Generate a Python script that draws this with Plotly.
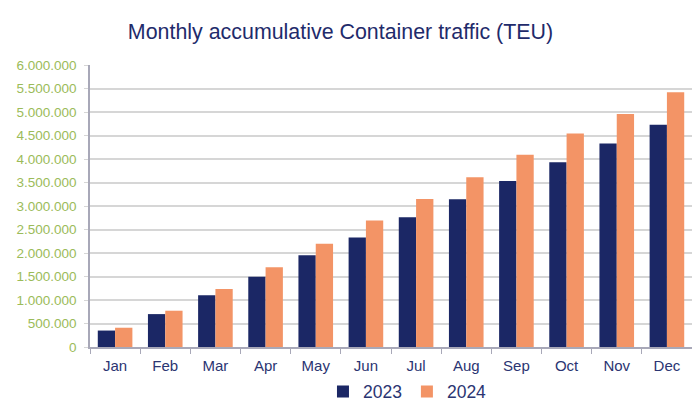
import plotly.graph_objects as go

months = ["Jan", "Feb", "Mar", "Apr", "May", "Jun", "Jul", "Aug", "Sep", "Oct", "Nov", "Dec"]
teu_2023 = [350000, 700000, 1100000, 1495000, 1950000, 2330000, 2760000, 3145000, 3530000, 3930000, 4330000, 4730000]
teu_2024 = [410000, 772000, 1234000, 1696000, 2198000, 2690000, 3150000, 3610000, 4090000, 4545000, 4960000, 5420000]
y_ticks = [0, 500000, 1000000, 1500000, 2000000, 2500000, 3000000, 3500000, 4000000, 4500000, 5000000, 5500000, 6000000]
y_labels = ["0", "500.000", "1.000.000", "1.500.000", "2.000.000", "2.500.000", "3.000.000",
            "3.500.000", "4.000.000", "4.500.000", "5.000.000", "5.500.000", "6.000.000"]

NAVY = "#1b2765"
ORANGE = "#f39466"
GREEN = "#9bbb59"
FONT = "Liberation Sans, Arial, sans-serif"

fig = go.Figure()
fig.add_trace(go.Bar(name="2023", x=months, y=teu_2023, marker=dict(color=NAVY, line=dict(width=0))))
fig.add_trace(go.Bar(name="2024", x=months, y=teu_2024, marker=dict(color=ORANGE, line=dict(width=0))))

fig.update_layout(
    width=692, height=404,
    margin=dict(l=90, r=0, t=65, b=57, autoexpand=False),
    paper_bgcolor="white", plot_bgcolor="white",
    barmode="group", bargap=0.31, bargroupgap=0,
    font=dict(family=FONT),
    title=dict(text="Monthly accumulative Container traffic (TEU)", x=0.492, xanchor="center",
               y=0.921, yanchor="middle", yref="container",
               font=dict(size=21.4, color="#1f2b6b", family=FONT)),
    legend=dict(orientation="h", x=0.387, xanchor="left", y=-0.158, yanchor="middle",
                font=dict(size=17.5, color="#2b3572"), itemwidth=30, traceorder="normal",
                tracegroupgap=0),
    showlegend=True,
)
fig.update_xaxes(
    showgrid=False, showline=True, linecolor="#a8a8b8", linewidth=1.5,
    ticks="outside", tickson="boundaries", ticklen=5, tickcolor="#a8a8b8",
    tickfont=dict(size=15, color="#2b3572"), ticklabelstandoff=4,
)
fig.update_yaxes(
    range=[0, 6000000], tickvals=y_ticks, ticktext=y_labels,
    showgrid=True, gridcolor="#d6d6d6", gridwidth=1.5,
    showline=True, linecolor="#a8a8b8", linewidth=1.5,
    ticks="outside", ticklen=4, tickcolor="#d6d6d6",
    tickfont=dict(size=13.5, color=GREEN), zeroline=False, ticklabelstandoff=5,
)

fig.write_html(
    "out.html",
    config={"displayModeBar": False},
    post_script="document.body.style.margin='0';document.body.style.overflow='hidden';",
)
